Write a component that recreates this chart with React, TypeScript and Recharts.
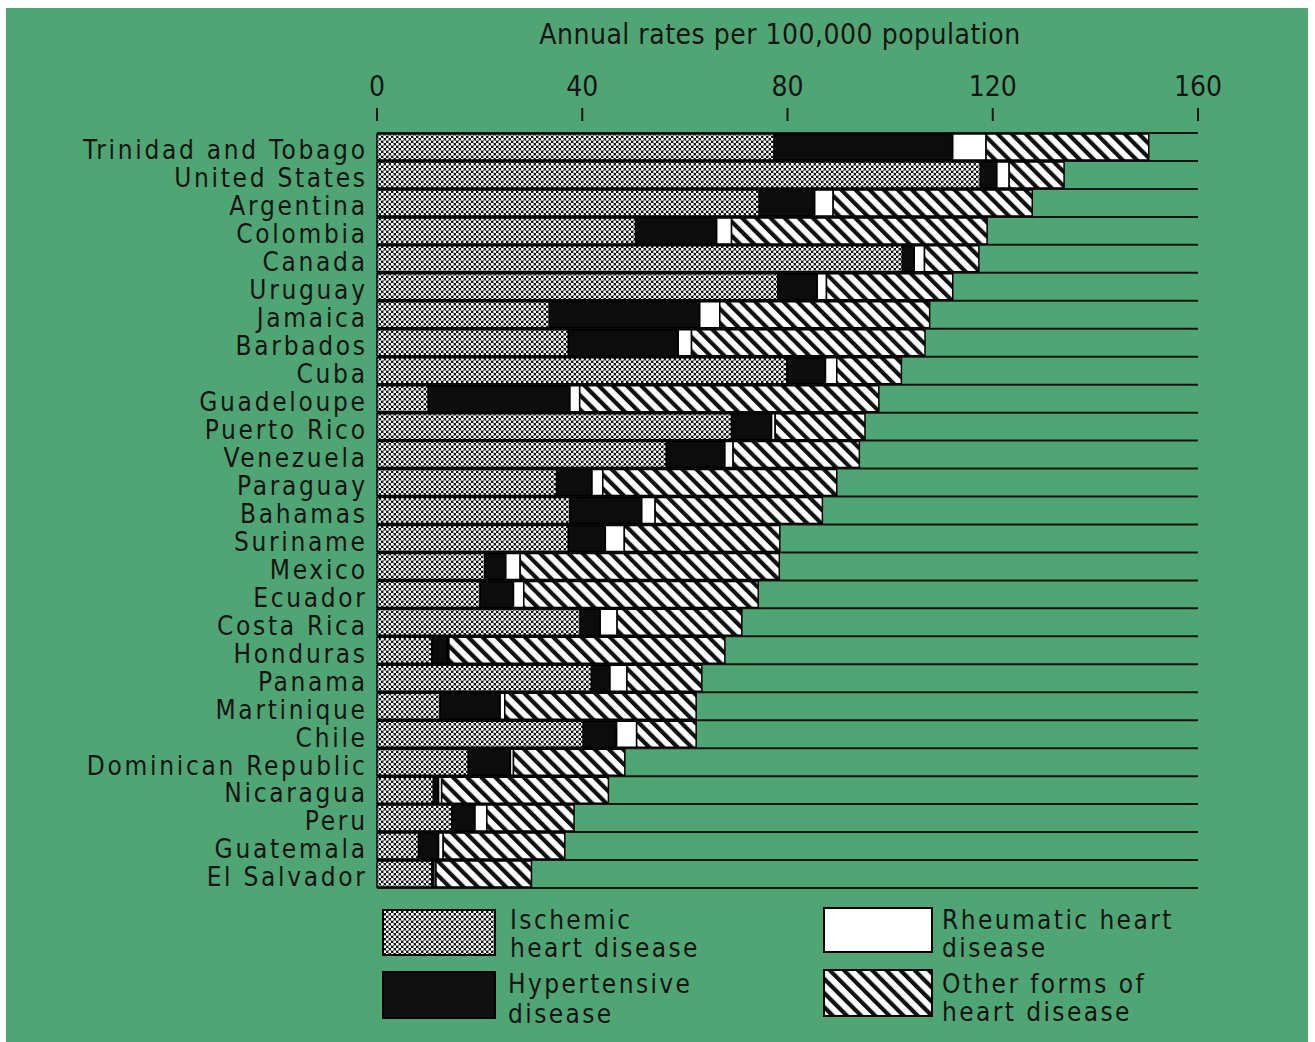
import React from 'react';
import { BarChart, Bar, XAxis, YAxis, CartesianGrid } from 'recharts';

const countries = [
  'Trinidad and Tobago', 'United States', 'Argentina', 'Colombia', 'Canada', 'Uruguay',
  'Jamaica', 'Barbados', 'Cuba', 'Guadeloupe', 'Puerto Rico', 'Venezuela', 'Paraguay',
  'Bahamas', 'Suriname', 'Mexico', 'Ecuador', 'Costa Rica', 'Honduras', 'Panama',
  'Martinique', 'Chile', 'Dominican Republic', 'Nicaragua', 'Peru', 'Guatemala', 'El Salvador',
];
const ischemic = [77.4, 117.6, 74.5, 50.4, 102.4, 78.1, 33.6, 37.3, 79.9, 10.0, 69.1, 56.4, 35.0, 37.6, 37.3, 21.0, 20.1, 39.6, 10.7, 41.8, 12.3, 40.2, 17.8, 11.0, 14.6, 8.1, 10.7];
const hypertensive = [34.8, 3.2, 10.8, 15.8, 2.3, 7.7, 29.3, 21.4, 7.5, 27.6, 7.8, 11.4, 6.9, 14.0, 7.2, 4.1, 6.5, 3.9, 3.0, 3.6, 11.7, 6.5, 8.2, 1.0, 4.5, 3.9, 0.4];
const rheumatic = [6.5, 2.4, 3.6, 2.9, 2.0, 1.8, 3.9, 2.6, 2.2, 1.9, 0.7, 1.6, 2.1, 2.6, 3.7, 2.8, 2.0, 3.3, 0.3, 3.3, 0.9, 3.9, 0.6, 0.6, 2.3, 0.9, 0.4];
const otherForms = [31.7, 10.7, 38.8, 49.8, 10.6, 24.6, 40.9, 45.5, 12.6, 58.3, 17.5, 24.6, 45.6, 32.6, 30.3, 50.5, 45.7, 24.3, 53.8, 14.6, 37.3, 11.6, 21.7, 32.5, 17.0, 23.7, 18.6];
const xTicks = [0, 40, 80, 120, 160];

const titleText = 'Annual rates per 100,000 population';

const data = countries.map((country, i) => ({
  country,
  ischemic: ischemic[i],
  hypertensive: hypertensive[i],
  rheumatic: rheumatic[i],
  other: otherForms[i],
}));

const GREEN = '#4fa674';
const INK = '#141414';
const FONT = "'Liberation Sans Narrow', 'DejaVu Sans Condensed', 'Arial Narrow', sans-serif";

const Patterns = ({ prefix }: { prefix: string }) => (
  <defs>
    <pattern id={`${prefix}-isch`} patternUnits="userSpaceOnUse" width={5} height={5}>
      <rect width={5} height={5} fill="#111" />
      <circle cx={1.25} cy={1.25} r={1.5} fill="#fff" />
      <circle cx={3.75} cy={3.75} r={1.5} fill="#fff" />
    </pattern>
    <pattern id={`${prefix}-other`} patternUnits="userSpaceOnUse" width={10} height={10} patternTransform="rotate(-45)">
      <rect width={10} height={10} fill="#fff" />
      <rect width={4.2} height={10} fill="#111" />
    </pattern>
  </defs>
);

const XTick = (props: any) => {
  const { x, payload } = props;
  return (
    <g>
      <text x={x} y={88} textAnchor="middle" fontSize={28} fontFamily={FONT} fill={INK}>
        {payload.value}
      </text>
      <line x1={x} x2={x} y1={100} y2={113} stroke={INK} strokeWidth={2} />
    </g>
  );
};

const YTick = (props: any) => {
  const { x, y, payload } = props;
  const spacing = 2.7;
  return (
    <text
      x={x + spacing}
      y={y + 3}
      dy="0.36em"
      textAnchor="end"
      fontSize={26}
      fontFamily={FONT}
      fill={INK}
      style={{ letterSpacing: `${spacing}px` }}
    >
      {payload.value}
    </text>
  );
};

const legendItems = [
  { key: 'isch', fill: 'url(#lg-isch)', x: 377, y: 902, w: 112, h: 45, tx: 504, lines: ['Ischemic', 'heart disease'], b: [921, 949] },
  { key: 'hyp', fill: '#111', x: 377, y: 964, w: 112, h: 46, tx: 502, lines: ['Hypertensive', 'disease'], b: [985, 1015] },
  { key: 'rheum', fill: '#fff', x: 818, y: 900, w: 108, h: 44, tx: 936, lines: ['Rheumatic heart', 'disease'], b: [921, 949] },
  { key: 'other', fill: 'url(#lg-other)', x: 818, y: 962, w: 108, h: 46, tx: 936, lines: ['Other forms of', 'heart disease'], b: [985, 1013] },
];

export default function App() {
  const n = countries.length;
  return (
    <div style={{ position: 'fixed', left: 6, top: 8, width: 1302, height: 1034, background: GREEN, overflow: 'hidden' }}>
      <div
        style={{
          position: 'absolute', left: 774, top: 10, transform: 'translateX(-50%)', whiteSpace: 'nowrap',
          fontFamily: FONT, fontSize: 28, color: INK, letterSpacing: '0.5px',
        }}
      >
        {titleText}
      </div>
      <div style={{ position: 'absolute', left: 0, top: 0 }}>
        <BarChart
          width={1302}
          height={890}
          data={data}
          layout="vertical"
          margin={{ top: 65, right: 110, bottom: 10, left: 0 }}
          barCategoryGap={1}
        >
          <Patterns prefix="ch" />
          <CartesianGrid
            vertical={false}
            stroke={INK}
            strokeWidth={2}
            horizontalCoordinatesGenerator={({ offset }: any) =>
              Array.from({ length: n + 1 }, (_, i) => offset.top + (i * offset.height) / n)
            }
          />
          <XAxis
            type="number"
            orientation="top"
            domain={[0, 160]}
            ticks={xTicks}
            height={60}
            axisLine={false}
            tickLine={false}
            tick={<XTick />}
            interval={0}
          />
          <YAxis
            type="category"
            dataKey="country"
            width={371}
            axisLine={false}
            tickLine={false}
            tickMargin={6}
            tick={<YTick />}
            interval={0}
          />
          <Bar dataKey="ischemic" stackId="a" fill="url(#ch-isch)" stroke="#000" strokeWidth={1.5} isAnimationActive={false} />
          <Bar dataKey="hypertensive" stackId="a" fill="#0c0c0c" stroke="#000" strokeWidth={1.5} isAnimationActive={false} />
          <Bar dataKey="rheumatic" stackId="a" fill="#fff" stroke="#000" strokeWidth={1.5} isAnimationActive={false} />
          <Bar dataKey="other" stackId="a" fill="url(#ch-other)" stroke="#000" strokeWidth={1.5} isAnimationActive={false} />
        </BarChart>
      </div>
      <svg width={1302} height={1034} style={{ position: 'absolute', left: 0, top: 0, pointerEvents: 'none' }}>
        <Patterns prefix="lg" />
        {legendItems.map((it) => (
          <g key={it.key}>
            <rect x={it.x} y={it.y} width={it.w} height={it.h} fill={it.fill} stroke="#000" strokeWidth={2} />
            {it.lines.map((ln, j) => (
              <text key={j} x={it.tx} y={it.b[j]} fontSize={26} fontFamily={FONT} fill={INK} style={{ letterSpacing: '2.4px' }}>
                {ln}
              </text>
            ))}
          </g>
        ))}
      </svg>
    </div>
  );
}
